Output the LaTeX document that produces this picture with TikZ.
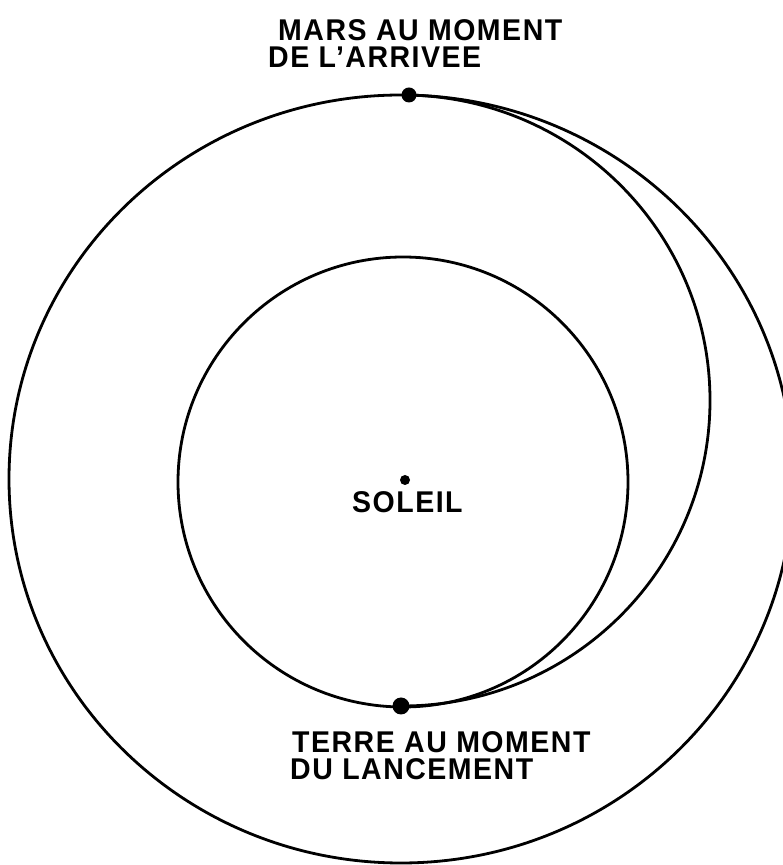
\documentclass[tikz,border=0pt]{standalone}
\usepackage{fontspec}
\setmainfont[LetterSpace=5,FakeStretch=0.95,Ligatures=NoCommon]{Liberation Sans}
\begin{document}
\begin{tikzpicture}[x=1pt,y=1pt,
  orbit/.style={line width=2.8pt, black},
  planet/.style={circle, fill=black, inner sep=0pt, minimum size=#1},
  lbl/.style={anchor=west, inner sep=0pt, font=\fontsize{30}{32}\selectfont\bfseries}
]
\useasboundingbox (0,0) rectangle (783,865);
% orbits
\draw[orbit] (401,386) ellipse [x radius=392, y radius=384];
\draw[orbit] (403,383) circle [radius=225];
% transfer orbit
\coordinate (tstart) at (402,159);
\draw[orbit] (tstart) arc [start angle=-90, end angle=90, x radius=308, y radius=305.5];
% bodies
\node[planet=15pt] (mars) at (409,770) {};
\node[planet=17pt] (terre) at (401,159) {};
\node[planet=10pt] (soleil) at (405,385) {};
% labels
\node[lbl] (lmars1) at (278,835) {MARS AU MOMENT};
\node[lbl] (lmars2) at (268,808) {DE L{\char"0027}ARRIVEE};
\node[lbl] (lterre1) at (292,123) {TERRE AU MOMENT};
\node[lbl] (lterre2) at (290,96) {DU LANCEMENT};
\node[lbl] (lsoleil) at (352,363) {SOLEIL};
\end{tikzpicture}
\end{document}
